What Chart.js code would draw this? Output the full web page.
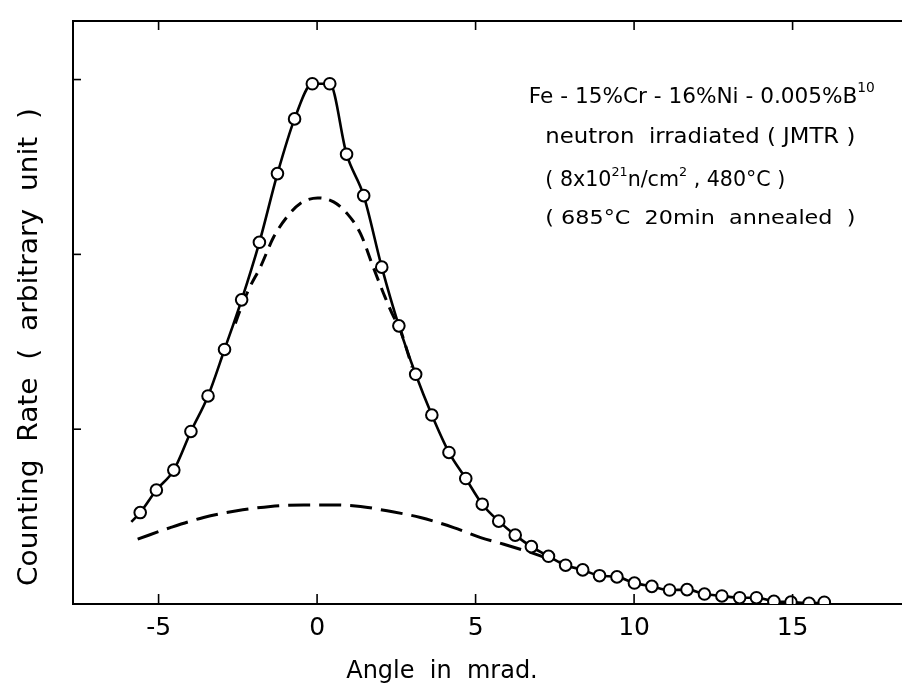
<!DOCTYPE html>
<html><head><meta charset="utf-8">
<script src="https://cdn.jsdelivr.net/npm/chart.js@4"></script>
<style>html,body{margin:0;padding:0;background:#fff}canvas{display:block}</style>
</head><body>
<canvas id="c" width="902" height="691"></canvas>
<script>
// ---- data ----
const measuredAngle = [-5.58,-5.07,-4.52,-3.98,-3.44,-2.92,-2.38,-1.82,-1.25,-0.71,-0.15,0.40,0.93,1.47,2.04,2.58,3.11,3.62,4.16,4.69,5.21,5.73,6.25,6.76,7.30,7.84,8.38,8.91,9.46,10.01,10.56,11.12,11.67,12.22,12.77,13.33,13.86,14.41,14.95,15.52,16.00];
const measuredRate  = [0.523,0.652,0.766,0.987,1.190,1.456,1.740,2.069,2.462,2.775,2.976,2.976,2.573,2.336,1.927,1.591,1.314,1.081,0.867,0.718,0.571,0.474,0.394,0.328,0.273,0.222,0.195,0.162,0.155,0.120,0.101,0.080,0.082,0.057,0.046,0.036,0.036,0.015,0.011,0.004,0.010];
const curveLeadAngle = [-5.86];
const curveLeadRate  = [0.47];
const narrowAngle = [-2.58,-2.37,-2.11,-1.79,-1.37,-0.95,-0.53,0.02,0.52,0.95,1.37,1.75,2.10,2.42,2.58,3.00];
const narrowRate  = [1.605,1.708,1.817,1.927,2.099,2.214,2.291,2.323,2.300,2.233,2.119,1.937,1.775,1.641,1.591,1.354];
const broadAngle = [-5.66,-4.63,-3.58,-2.53,-1.47,-0.42,0.42,1.37,2.21,3.26,4.31,5.16,5.89,6.73,7.26,7.84];
const broadRate  = [0.371,0.437,0.495,0.533,0.558,0.567,0.567,0.558,0.533,0.495,0.437,0.380,0.342,0.295,0.262,0.229];
const xTickValues = [-5,0,5,10,15];
const yTickValues = [1,2,3];
const xAxisTitle = 'Angle  in  mrad.';
const yAxisTitle = 'Counting  Rate  (  arbitrary  unit  )';

const pts = (xs, ys) => xs.map((x, i) => ({x, y: ys[i]}));
const solidData = pts(curveLeadAngle, curveLeadRate).concat(pts(measuredAngle, measuredRate));
const FONT = '"DejaVu Sans", "Liberation Sans", sans-serif';

// draw a line of text made of [text, isSuperscript] parts, fitted to a width
function drawRich(ctx, parts, x, y, size, targetW) {
  const sup = Math.round(size * 0.62);
  let w = 0;
  parts.forEach(([t, s]) => { ctx.font = (s ? sup : size) + 'px ' + FONT; w += ctx.measureText(t).width; });
  const k = targetW ? targetW / w : 1;
  ctx.save();
  ctx.translate(x, y);
  ctx.scale(k, 1);
  let cx = 0;
  ctx.textBaseline = 'alphabetic';
  ctx.textAlign = 'left';
  parts.forEach(([t, s]) => {
    ctx.font = (s ? sup : size) + 'px ' + FONT;
    ctx.fillText(t, cx, s ? -size * 0.5 : 0);
    cx += ctx.measureText(t).width;
  });
  ctx.restore();
}

const framePlugin = {
  id: 'frame',
  afterDraw(chart) {
    const {ctx, chartArea: a, scales: {x, y}} = chart;
    ctx.save();
    ctx.strokeStyle = '#000';
    ctx.fillStyle = '#000';
    ctx.lineWidth = 2;
    // top border
    ctx.beginPath(); ctx.moveTo(a.left, a.top); ctx.lineTo(a.right + 2, a.top); ctx.stroke();
    // inside tick marks
    ctx.lineWidth = 1.6;
    xTickValues.forEach(v => {
      const px = x.getPixelForValue(v);
      ctx.beginPath(); ctx.moveTo(px, a.bottom); ctx.lineTo(px, a.bottom - 10); ctx.stroke();
      ctx.beginPath(); ctx.moveTo(px, a.top); ctx.lineTo(px, a.top + 9); ctx.stroke();
    });
    yTickValues.forEach(v => {
      const py = y.getPixelForValue(v);
      ctx.beginPath(); ctx.moveTo(a.left, py); ctx.lineTo(a.left + 8, py); ctx.stroke();
    });
    // axis titles
    ctx.fillStyle = '#000';
    ctx.textAlign = 'center';
    ctx.textBaseline = 'middle';
    ctx.font = '24px ' + FONT;
    ctx.fillText(xAxisTitle, x.getPixelForValue(3.94), 672);
    ctx.save();
    ctx.translate(30, y.getPixelForValue(1.47));
    ctx.rotate(-Math.PI / 2);
    ctx.font = '26px ' + FONT;
    const tw = ctx.measureText(yAxisTitle).width;
    ctx.scale(478 / tw, 1);
    ctx.fillText(yAxisTitle, 0, 0);
    ctx.restore();
    // annotation
    const ax = v => x.getPixelForValue(v);
    drawRich(ctx, [['Fe - 15%Cr - 16%Ni - 0.005%B', false], ['10', true]], ax(6.68), 103, 22, 346);
    drawRich(ctx, [['neutron  irradiated ( JMTR )', false]], ax(7.2), 143, 21, 310);
    drawRich(ctx, [['( 8x10', false], ['21', true], ['n/cm', false], ['2', true], [' , 480°C )', false]], ax(7.2), 186, 21, 240);
    drawRich(ctx, [['( 685°C  20min  annealed  )', false]], ax(7.2), 224, 20, 310);
    ctx.restore();
  }
};

new Chart(document.getElementById('c'), {
  type: 'line',
  data: {
    datasets: [
      {
        label: 'measured',
        data: solidData,
        borderColor: '#000',
        borderWidth: 2.6,
        cubicInterpolationMode: 'monotone',
        pointRadius: ctx => ctx.dataIndex === 0 ? 0 : 5.8,
        pointBackgroundColor: '#fff',
        pointBorderColor: '#000',
        pointBorderWidth: 2,
        order: 0
      },
      {
        label: 'narrow component',
        data: pts(narrowAngle, narrowRate),
        borderColor: '#000',
        borderWidth: 3,
        borderDash: [13, 8],
        cubicInterpolationMode: 'monotone',
        pointRadius: 0,
        order: 1
      },
      {
        label: 'broad component',
        data: pts(broadAngle, broadRate),
        borderColor: '#000',
        borderWidth: 3,
        borderDash: [22, 9],
        cubicInterpolationMode: 'monotone',
        pointRadius: 0,
        order: 2
      }
    ]
  },
  options: {
    responsive: false,
    animation: false,
    events: [],
    layout: {autoPadding: false, padding: {left: 73, top: 21, right: 1, bottom: 39}},
    plugins: {legend: {display: false}, tooltip: {enabled: false}},
    scales: {
      x: {
        type: 'linear',
        min: -7.70,
        max: 18.42,
        afterBuildTicks: s => { s.ticks = xTickValues.map(v => ({value: v})); },
        afterFit: s => { s.paddingLeft = 0; s.paddingRight = 0; },
        grid: {display: false, drawTicks: false},
        border: {display: true, color: '#000', width: 2},
        ticks: {color: '#000', font: {size: 25, family: FONT}, padding: 9, maxRotation: 0, autoSkip: false,
                callback: v => String(v)}
      },
      y: {
        type: 'linear',
        min: 0,
        max: 3.335,
        grid: {display: false, drawTicks: false},
        border: {display: true, color: '#000', width: 2},
        ticks: {display: false}
      }
    }
  },
  plugins: [framePlugin]
});
</script>
</body></html>
